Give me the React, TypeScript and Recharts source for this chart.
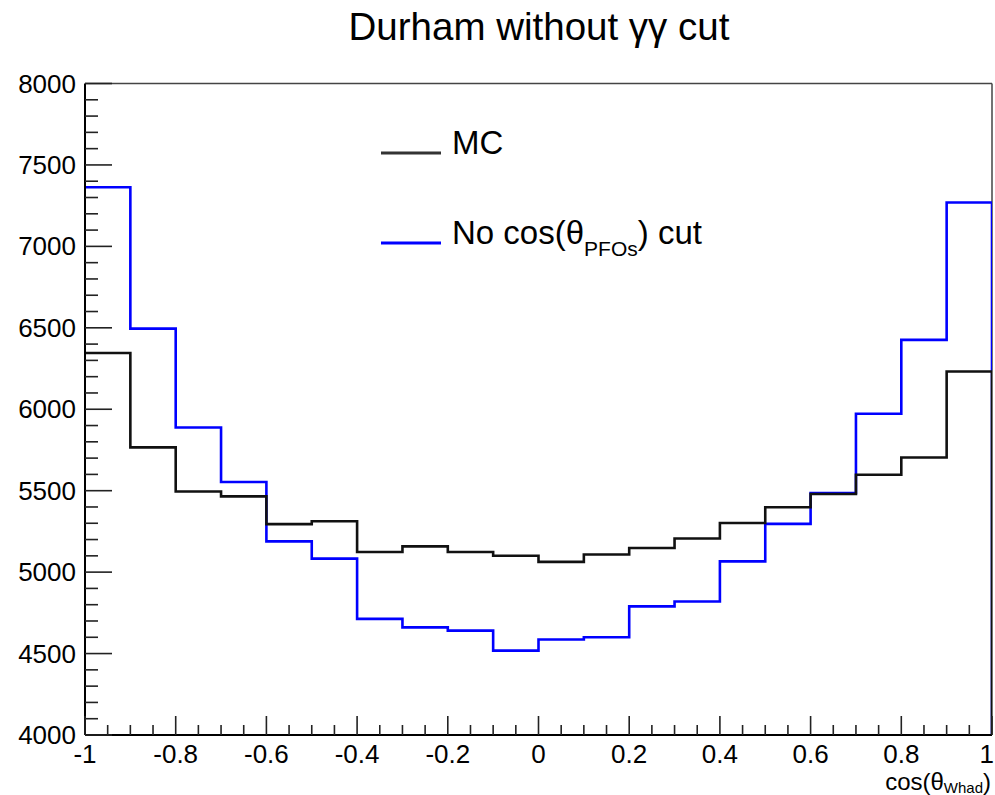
import { LineChart, Line, XAxis, YAxis, ReferenceLine } from "recharts";

// cos(theta_Whad) bin edges, 20 bins of width 0.1
const binEdges = [
  -1, -0.9, -0.8, -0.7, -0.6, -0.5, -0.4, -0.3, -0.2, -0.1, 0, 0.1, 0.2, 0.3,
  0.4, 0.5, 0.6, 0.7, 0.8, 0.9, 1,
];

// bin contents
const mcCounts = [
  6345, 5766, 5495, 5465, 5295, 5312, 5124, 5158, 5124, 5101, 5063, 5108, 5148,
  5206, 5302, 5398, 5480, 5598, 5704, 6232,
];
const noCosCutCounts = [
  7363, 6495, 5888, 5553, 5189, 5083, 4713, 4661, 4641, 4518, 4586, 4600, 4790,
  4820, 5066, 5296, 5486, 5972, 6426, 7269,
];

const xMajorTicks = [-1, -0.8, -0.6, -0.4, -0.2, 0, 0.2, 0.4, 0.6, 0.8, 1];
const yMajorTicks = [4000, 4500, 5000, 5500, 6000, 6500, 7000, 7500, 8000];

const seriesNames = { mc: "MC", noCut: "No cos(θ_PFOs) cut" };

const X_MIN = -1;
const X_MAX = 1;
const Y_MIN = 4000;
const Y_MAX = 8000;

const FONT = '"Liberation Sans", Arial, Helvetica, sans-serif';

// minor ticks every 0.05 on x and every 100 on y
const xTicks = Array.from(
  { length: 41 },
  (_, i) => Math.round((X_MIN + i * 0.05) * 100) / 100
);
const yTicks = Array.from({ length: 41 }, (_, i) => Y_MIN + i * 100);

// one point per bin low edge; the closing point at x=1 drops back to the axis
const histData = binEdges.map((edge, i) => ({
  x: edge,
  mc: i < mcCounts.length ? mcCounts[i] : Y_MIN,
  noCut: i < noCosCutCounts.length ? noCosCutCounts[i] : Y_MIN,
}));

const isMajor = (list: number[], v: number) =>
  list.some((t) => Math.abs(t - v) < 1e-6);

function XTick(props: any) {
  const { x, y, payload } = props;
  const v = payload.value as number;
  const major = isMajor(xMajorTicks, v);
  // last label sits on the page edge, keep it inside
  const last = v === X_MAX;
  return (
    <g>
      <line
        x1={x}
        x2={x}
        y1={y}
        y2={y - (major ? 19 : 10)}
        stroke="#222"
        strokeWidth={1.6}
      />
      {major && (
        <text
          x={last ? x + 2 : x}
          y={y + 28}
          textAnchor={last ? "end" : "middle"}
          fontSize={26}
          fontFamily={FONT}
          fill="#000"
        >
          {v === 0 ? "0" : String(v)}
        </text>
      )}
    </g>
  );
}

function YTick(props: any) {
  const { x, y, payload } = props;
  const v = payload.value as number;
  const major = isMajor(yMajorTicks, v);
  return (
    <g>
      <line
        x1={x}
        x2={x + (major ? 27 : 13)}
        y1={y}
        y2={y}
        stroke="#222"
        strokeWidth={1.6}
      />
      {major && (
        <text
          x={x - 9}
          y={y + 9}
          textAnchor="end"
          fontSize={26}
          fontFamily={FONT}
          fill="#000"
        >
          {v}
        </text>
      )}
    </g>
  );
}

function LegendRow({
  color,
  top,
  children,
}: {
  color: string;
  top: number;
  children: React.ReactNode;
}) {
  return (
    <div style={{ position: "absolute", left: 0, top, height: 40 }}>
      <svg
        width={62}
        height={6}
        style={{ position: "absolute", left: 11, top: 24 }}
      >
        <line x1={0} x2={60} y1={3} y2={3} stroke={color} strokeWidth={3} />
      </svg>
      <div
        style={{
          position: "absolute",
          left: 82,
          top: 0,
          fontSize: 33,
          lineHeight: "33px",
          whiteSpace: "nowrap",
          color: "#000",
        }}
      >
        {children}
      </div>
    </div>
  );
}

export default function App() {
  return (
    <div
      style={{
        position: "absolute",
        left: 0,
        top: 0,
        width: 995,
        height: 795,
        background: "#fff",
        fontFamily: FONT,
        overflow: "hidden",
      }}
    >
      <div
        style={{
          position: "absolute",
          left: 539,
          top: 8,
          transform: "translateX(-50%)",
          fontSize: 38.5,
          lineHeight: "38.5px",
          whiteSpace: "nowrap",
          color: "#000",
        }}
      >
        Durham without γγ cut
      </div>

      <LineChart
        width={995}
        height={795}
        data={histData}
        margin={{ top: 83.5, right: 3, bottom: 20, left: 5 }}
      >
        <XAxis
          type="number"
          dataKey="x"
          domain={[X_MIN, X_MAX]}
          ticks={xTicks}
          interval={0}
          tickSize={0}
          tickMargin={0}
          tickLine={false}
          tick={<XTick />}
          axisLine={{ stroke: "#000", strokeWidth: 2 }}
          height={40}
          allowDataOverflow
        />
        <YAxis
          type="number"
          domain={[Y_MIN, Y_MAX]}
          ticks={yTicks}
          interval={0}
          tickSize={0}
          tickMargin={0}
          tickLine={false}
          tick={<YTick />}
          axisLine={{ stroke: "#000", strokeWidth: 2 }}
          width={80}
          allowDataOverflow
        />
        {/* frame: top and right edges */}
        <ReferenceLine y={Y_MAX} stroke="#444" strokeWidth={1.5} />
        <ReferenceLine x={X_MAX} stroke="#444" strokeWidth={1.5} />
        <Line
          type="stepAfter"
          dataKey="noCut"
          name={seriesNames.noCut}
          stroke="#0000ff"
          strokeWidth={2.6}
          dot={false}
          isAnimationActive={false}
        />
        <Line
          type="stepAfter"
          dataKey="mc"
          name={seriesNames.mc}
          stroke="#111"
          strokeWidth={2.6}
          dot={false}
          isAnimationActive={false}
        />
      </LineChart>

      <div
        style={{
          position: "absolute",
          left: 370,
          top: 110,
          width: 350,
          height: 160,
        }}
      >
        <LegendRow color="#333" top={16}>
          {seriesNames.mc}
        </LegendRow>
        <LegendRow color="#0000ff" top={106}>
          No cos(θ
          <span style={{ position: "relative", top: 12, fontSize: 21 }}>
            PFOs
          </span>
          ) cut
        </LegendRow>
      </div>

      <div
        style={{
          position: "absolute",
          right: 4,
          top: 772,
          fontSize: 24,
          lineHeight: "20px",
          whiteSpace: "nowrap",
          color: "#000",
        }}
      >
        cos(θ
        <span style={{ position: "relative", top: 3, fontSize: 15 }}>
          Whad
        </span>
        )
      </div>
    </div>
  );
}
